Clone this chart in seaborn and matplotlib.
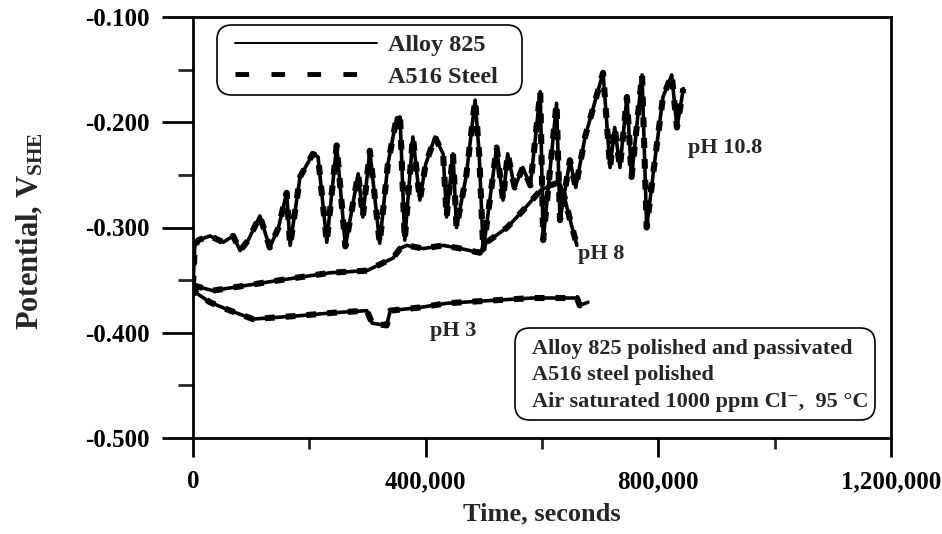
import matplotlib
matplotlib.use("Agg")
import matplotlib.pyplot as plt
import seaborn as sns
import pandas as pd
from matplotlib.lines import Line2D
from matplotlib.patches import FancyBboxPatch

# ---------------- data ----------------
ph108_t = [0, 3e3, 9e3, 29e3, 52e3, 69e3, 81e3, 95e3, 115e3, 132e3, 147e3, 161e3,
           167e3, 184e3, 206e3, 215e3, 230e3, 247e3, 262e3, 284e3, 292e3, 304e3,
           321e3, 335e3, 350e3, 356e3, 364e3, 378e3, 390e3, 400e3, 416e3, 430e3,
           436e3, 447e3, 453e3, 470e3, 485e3, 492e3, 499e3, 522e3, 533e3, 541e3,
           553e3, 567e3, 580e3, 597e3, 602e3, 625e3, 631e3, 648e3, 658e3, 674e3,
           705e3, 717e3, 725e3, 734e3, 746e3, 754e3, 772e3, 780e3, 794e3, 808e3,
           823e3, 832e3, 843e3]
ph108_v = [-0.355, -0.318, -0.312, -0.308, -0.314, -0.308, -0.322, -0.312, -0.289,
           -0.319, -0.300, -0.267, -0.317, -0.252, -0.230, -0.233, -0.314, -0.222,
           -0.318, -0.249, -0.290, -0.227, -0.315, -0.240, -0.196, -0.195, -0.312,
           -0.214, -0.274, -0.240, -0.214, -0.230, -0.290, -0.230, -0.300, -0.250,
           -0.179, -0.230, -0.322, -0.224, -0.274, -0.230, -0.262, -0.243, -0.260,
           -0.171, -0.312, -0.182, -0.293, -0.236, -0.262, -0.214, -0.153, -0.243,
           -0.205, -0.243, -0.176, -0.252, -0.155, -0.300, -0.236, -0.176, -0.155,
           -0.205, -0.168]

ph8_t = [0, 34e3, 92e3, 150e3, 236e3, 299e3, 344e3, 356e3, 367e3, 396e3, 430e3,
         460e3, 493e3, 505e3, 540e3, 567e3, 597e3, 614e3, 630e3, 638e3, 647e3, 660e3]
ph8_v = [-0.355, -0.360, -0.355, -0.350, -0.343, -0.341, -0.329, -0.320, -0.317,
         -0.320, -0.317, -0.320, -0.324, -0.314, -0.300, -0.284, -0.265, -0.260,
         -0.257, -0.270, -0.290, -0.317]

ph3_t = [0, 5e3, 29e3, 64e3, 103e3, 179e3, 241e3, 299e3, 308e3, 333e3, 339e3,
         390e3, 436e3, 493e3, 584e3, 660e3, 665e3, 679e3]
ph3_v = [-0.355, -0.362, -0.371, -0.379, -0.387, -0.384, -0.381, -0.379, -0.391,
         -0.393, -0.379, -0.376, -0.372, -0.370, -0.367, -0.367, -0.374, -0.371]

curve_labels = ["pH 10.8", "pH 8", "pH 3"]
label_t = [851e3, 662e3, 407e3]
label_v = [-0.224, -0.325, -0.398]

series_names = ["Alloy 825", "A516 Steel"]
note_lines = ["Alloy 825 polished and passivated",
              "A516 steel polished",
              "Air saturated 1000 ppm Cl\u207b,  95 \u00b0C"]

xticks = [0, 400000, 800000, 1200000]
xtick_labels = ["0", "400,000", "800,000", "1,200,000"]
xminor = [200000, 600000, 1000000]
yticks = [-0.5, -0.4, -0.3, -0.2, -0.1]
ytick_labels = ["-0.500", "-0.400", "-0.300", "-0.200", "-0.100"]
yminor = [-0.45, -0.35, -0.25, -0.15]

# ---------------- style ----------------
sns.set_theme(style="ticks")
plt.rcParams["font.family"] = ["Liberation Serif", "DejaVu Serif"]
plt.rcParams["font.weight"] = "bold"
plt.rcParams["axes.unicode_minus"] = False
plt.rcParams["mathtext.fontset"] = "custom"
plt.rcParams["mathtext.rm"] = "Liberation Serif:bold"
plt.rcParams["mathtext.bf"] = "Liberation Serif:bold"
plt.rcParams["mathtext.it"] = "Liberation Serif:italic:bold"

fig = plt.figure(figsize=(9.42, 5.34), dpi=100)
ax = fig.add_axes([193 / 942, 1 - 438 / 534, 698 / 942, 421 / 534])

for t, v in [(ph108_t, ph108_v), (ph8_t, ph8_v), (ph3_t, ph3_v)]:
    df = pd.DataFrame({"t": t, "V": v})
    sns.lineplot(data=df, x="t", y="V", ax=ax, color="black", lw=2.6,
                 sort=False, estimator=None)
    sns.lineplot(data=df, x="t", y="V", ax=ax, color="black", lw=4.4,
                 linestyle=(0, (1.6, 1.8)), sort=False, estimator=None)

for lab, tx, vy in zip(curve_labels, label_t, label_v):
    ax.text(tx, vy, lab, fontsize=16, ha="left", va="center")

ax.set_xlim(0, 1200000)
ax.set_ylim(-0.5, -0.1)
ax.set_xticks(xticks, xtick_labels)
ax.set_xticks(xminor, minor=True)
ax.set_yticks(yticks, ytick_labels)
ax.set_yticks(yminor, minor=True)
ax.tick_params(axis="both", colors="black", labelsize=18, width=2)
ax.tick_params(axis="y", which="major", length=22, direction="out", pad=9.5)
ax.tick_params(axis="y", which="minor", length=11, direction="out", width=2)
ax.tick_params(axis="x", which="major", length=14, direction="out", pad=9)
ax.tick_params(axis="x", which="minor", length=8, direction="out", width=2)
for s in ax.spines.values():
    s.set_visible(True)
    s.set_color("black")
    s.set_linewidth(2)

ax.set_xlabel("Time, seconds", fontsize=19, fontweight="bold")
ax.set_ylabel(r"Potential, V$_{\mathbf{SHE}}$", fontsize=22, fontweight="bold")
ax.xaxis.set_label_coords(0.5, -0.152)
ax.yaxis.set_label_coords(-0.211, 0.492)

# legend (frame drawn separately as a rounded box)
legbox = FancyBboxPatch((2.17, 5.34 - 0.95), 3.05, 0.70,
                        boxstyle="round,pad=0,rounding_size=0.15",
                        transform=fig.dpi_scale_trans, fc="white", ec="black",
                        lw=1.2, clip_on=False, zorder=4)
ax.add_patch(legbox)
handles = [Line2D([], [], color="black", lw=1.4),
           Line2D([], [], color="black", lw=3.5, linestyle=(0, (2.8, 4.6)))]
leg = ax.legend(handles, series_names, loc="upper left",
                bbox_to_anchor=(235 / 942, 1 - 34 / 534),
                bbox_transform=fig.transFigure, borderaxespad=0,
                borderpad=0, handlelength=5.84, handletextpad=0.45,
                labelspacing=0.4, fontsize=17.5, frameon=False)
leg.set_zorder(6)

# annotation box
box = FancyBboxPatch((5.15, 5.34 - 4.20), 3.60, 0.92,
                     boxstyle="round,pad=0,rounding_size=0.15",
                     transform=fig.dpi_scale_trans, fc="white", ec="black",
                     lw=1.2, clip_on=False, zorder=5)
ax.add_patch(box)
ax.text(5.32, 5.34 - 3.39, "\n".join(note_lines), transform=fig.dpi_scale_trans,
        fontsize=16, ha="left", va="top", linespacing=1.42, zorder=6)

fig.savefig("out.png", dpi=100)
